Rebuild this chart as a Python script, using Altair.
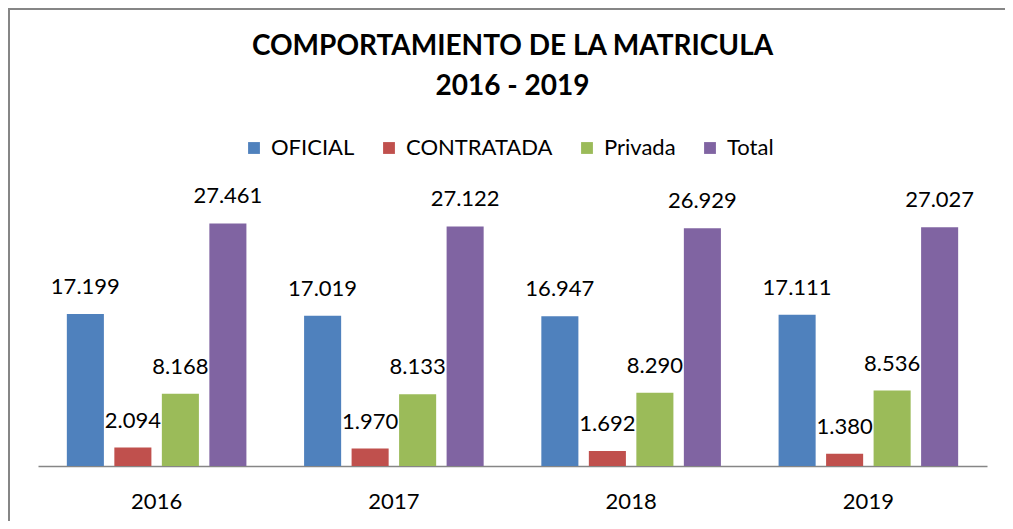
import altair as alt
import pandas as pd

years = ["2016", "2017", "2018", "2019"]
series = ["OFICIAL", "CONTRATADA", "Privada", "Total"]
oficial = [17199, 17019, 16947, 17111]
contratada = [2094, 1970, 1692, 1380]
privada = [8168, 8133, 8290, 8536]
total = [27461, 27122, 26929, 27027]
colors = ["#4F81BD", "#C0504D", "#9BBB59", "#8064A2"]

rows = []
for i, y in enumerate(years):
    for s, vals in zip(series, [oficial, contratada, privada, total]):
        rows.append({"year": y, "series": s, "value": vals[i]})
df = pd.DataFrame(rows)

FONT = "Lato"

x = alt.X("year:N", sort=years, title=None,
          scale=alt.Scale(paddingInner=0, paddingOuter=0),
          axis=alt.Axis(labelAngle=0, ticks=False, domainColor="#868686", domainWidth=1.5,
                        labelFontSize=22, labelFont=FONT, labelColor="#000000", labelPadding=25))
xo = alt.XOffset("series:N", sort=series,
                 scale=alt.Scale(paddingInner=0.22, paddingOuter=0.607))
y = alt.Y("value:Q", scale=alt.Scale(domain=[0, 30000]), axis=None)
color = alt.Color("series:N", sort=series,
                  scale=alt.Scale(domain=series, range=colors),
                  legend=alt.Legend(title=None, orient="none", direction="horizontal",
                                    legendX=205, legendY=-64,
                                    symbolType="square", symbolSize=140, symbolStrokeWidth=0,
                                    labelFont=FONT, labelFontSize=22, labelColor="#000000",
                                    labelOffset=6, columnPadding=23))

base = alt.Chart(df).encode(x=x, xOffset=xo)

bars1 = base.transform_filter(alt.datum.series != "Total").mark_bar().encode(y=y, color=color)
labels = base.transform_calculate(
    lab="replace(format(datum.value, ','), ',', '.')"
).mark_text(font=FONT, fontSize=22, baseline="middle", dy=-27, color="#000000").encode(
    y=y, text="lab:N")
bars2 = base.transform_filter(alt.datum.series == "Total").mark_bar().encode(y=y, color=color)

one = pd.DataFrame({"k": [0]})
border_top = alt.Chart(one).mark_rule(stroke="#868686", strokeWidth=2).encode(
    x=alt.value(-30), x2=alt.value(1100), y=alt.value(-192))
border_left = alt.Chart(one).mark_rule(stroke="#868686", strokeWidth=2).encode(
    x=alt.value(-29), y=alt.value(-193), y2=alt.value(400))

chart = alt.layer(border_top, border_left, bars1, labels, bars2).properties(
    width=949, height=265,
    title=alt.TitleParams(text=["COMPORTAMIENTO DE LA MATRICULA", "2016 - 2019"],
                          font=FONT, fontSize=28, fontWeight="bold", color="#000000",
                          anchor="middle", frame="group", lineHeight=40, offset=-94),
    autosize=alt.AutoSizeParams(type="none"),
    padding={"left": 30, "top": 193, "right": 18, "bottom": 55},
).configure_view(stroke=None).configure_legend(padding=0)

chart.save("out.html", embed_options={"renderer": "svg", "actions": False})
